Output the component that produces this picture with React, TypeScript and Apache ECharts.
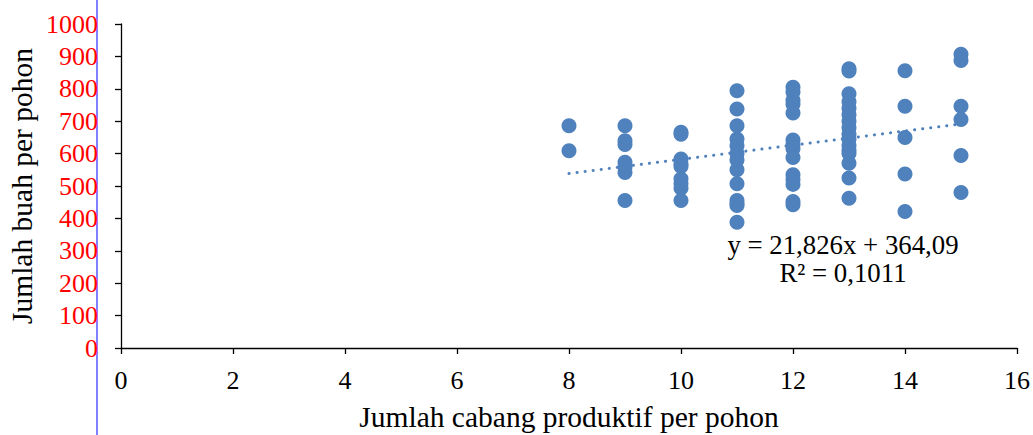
import React, { useEffect, useRef } from "react";
import * as echarts from "echarts";

const branchCounts = [
  8, 8,
  9, 9, 9, 9, 9, 9, 9,
  10, 10, 10, 10, 10, 10, 10, 10, 10,
  11, 11, 11, 11, 11, 11, 11, 11, 11, 11, 11, 11, 11,
  12, 12, 12, 12, 12, 12, 12, 12, 12, 12, 12, 12, 12, 12,
  13, 13, 13, 13, 13, 13, 13, 13, 13, 13, 13, 13, 13, 13, 13, 13,
  14, 14, 14, 14, 14,
  15, 15, 15, 15, 15, 15,
];
const fruitCounts = [
  686, 609,
  686, 640, 628, 573, 558, 542, 455,
  666, 660, 583, 568, 560, 522, 508, 493, 455,
  794, 738, 686, 645, 624, 600, 580, 550, 507, 455, 445, 440, 388,
  805, 790, 765, 752, 725, 642, 628, 615, 588, 535, 520, 505, 452, 442,
  862, 855, 785, 760, 740, 720, 700, 680, 660, 645, 625, 610, 600, 570, 525, 462,
  856, 746, 650, 537, 421,
  907, 887, 746, 705, 594, 480,
];
const trendX = [8, 15];
const trendY = [538.7, 691.5];
const equationLines = ["y = 21,826x + 364,09", "R² = 0,1011"];
const xTitle = "Jumlah cabang produktif per pohon";
const yTitle = "Jumlah buah per pohon";

const FONT = "'Liberation Serif', 'Times New Roman', serif";
const BLUE = "#4F81BD";

export default function App() {
  const ref = useRef<HTMLDivElement>(null);
  useEffect(() => {
    document.body.style.margin = "0";
    const chart = echarts.init(ref.current!, null, { renderer: "svg" });
    const points = branchCounts.map((x, i) => [x, fruitCounts[i]]);
    const trend = trendX.map((x, i) => [x, trendY[i]]);
    chart.setOption({
      animation: false,
      textStyle: { fontFamily: FONT, color: "#000" },
      grid: { left: 121, right: 16, top: 24, bottom: 87, containLabel: false, outerBoundsMode: "none" },
      xAxis: {
        type: "value",
        min: 0,
        max: 16,
        interval: 2,
        name: xTitle,
        nameLocation: "middle",
        nameGap: 54,
        nameTextStyle: { fontSize: 29.5, color: "#000" },
        axisLine: { show: true, onZero: false, lineStyle: { color: "#000", width: 1.3 } },
        axisTick: { show: true, inside: false, length: 6, lineStyle: { color: "#000", width: 1.3 } },
        axisLabel: { fontSize: 26, color: "#000", margin: 19, formatter: (v: number) => String(v) },
        splitLine: { show: false },
      },
      yAxis: {
        type: "value",
        min: 0,
        max: 1000,
        interval: 100,
        axisLine: { show: true, lineStyle: { color: "#000", width: 1.3 } },
        axisTick: { show: true, inside: false, length: 6, lineStyle: { color: "#000", width: 1.3 } },
        axisLabel: { fontSize: 26, color: "red", margin: 23, formatter: (v: number) => String(v) },
        splitLine: { show: false },
      },
      graphic: [
        ...equationLines.map((t, i) => ({
          type: "text",
          x: 843,
          y: 245 + i * 28,
          style: {
            text: t,
            fontFamily: FONT,
            fontSize: 26.8,
            fill: "#000",
            textAlign: "center",
            textVerticalAlign: "middle",
          },
        })),
        {
          type: "text",
          x: 22,
          y: 186,
          rotation: Math.PI / 2,
          style: {
            text: yTitle,
            fontFamily: FONT,
            fontSize: 29.5,
            fill: "#000",
            textAlign: "center",
            textVerticalAlign: "middle",
          },
        },
        { type: "line", shape: { x1: 97, y1: 0, x2: 97, y2: 435 }, style: { stroke: "blue" } },
      ],
      series: [
        {
          type: "scatter",
          data: points,
          symbol: "circle",
          symbolSize: 15,
          itemStyle: { color: BLUE, opacity: 1 },
          z: 3,
        },
        {
          type: "line",
          data: trend,
          symbol: "none",
          lineStyle: { color: BLUE, width: 3, type: [0.1, 8], cap: "round" },
          z: 2,
        },
      ],
    });
    return () => chart.dispose();
  }, []);
  return <div ref={ref} style={{ width: 1033, height: 435 }} />;
}
